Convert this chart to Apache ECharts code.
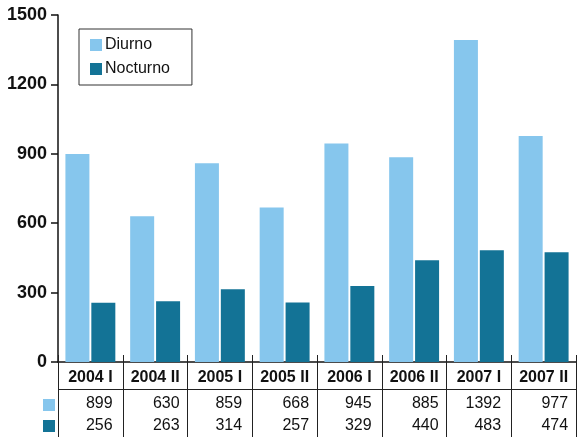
<!DOCTYPE html>
<html><head><meta charset="utf-8">
<script src="https://cdn.jsdelivr.net/npm/echarts@6/dist/echarts.min.js"></script>
<style>html,body{margin:0;padding:0;background:#fff}#c{width:580px;height:437px}</style>
</head><body><div id="c"></div>
<script>
const categories = ['2004 I','2004 II','2005 I','2005 II','2006 I','2006 II','2007 I','2007 II'];
const diurno = [899, 630, 859, 668, 945, 885, 1392, 977];
const nocturno = [256, 263, 314, 257, 329, 440, 483, 474];
const seriesNames = ['Diurno', 'Nocturno'];
const colors = ['#86C6ED', '#137396'];
const FONT = '"Liberation Sans", Arial, Helvetica, sans-serif';

const chart = echarts.init(document.getElementById('c'), null, {renderer: 'canvas'});
chart.setOption({
  animation: false,
  textStyle: {fontFamily: FONT},
  grid: {left: 58, right: 4, top: 15, bottom: 75, containLabel: false},
  legend: {
    orient: 'vertical', left: 79, top: 29,
    itemWidth: 12, itemHeight: 12, itemGap: 8,
    padding: [8, 22, 8, 11],
    borderColor: '#333', borderWidth: 1,
    textStyle: {fontFamily: FONT, fontSize: 16, color: '#111', padding: [0,0,0,-2]},
    data: seriesNames,
    icon: 'rect'
  },
  xAxis: [{
    type: 'category', data: categories, boundaryGap: true,
    axisLine: {lineStyle: {color: '#111', width: 1.5}},
    axisTick: {show: true, interval: 0, length: 76, lineStyle: {color: '#222', width: 1}},
    axisLabel: {
      interval: 0, margin: 1,
      formatter: function (v, i) {
        return '{c|' + v + '}\n{v|' + diurno[i] + '}\n{v|' + nocturno[i] + '}';
      },
      rich: {
        c: {fontFamily: FONT, fontWeight: 'bold', fontSize: 16, color: '#111', lineHeight: 30, align: 'center'},
        v: {fontFamily: FONT, fontSize: 16, color: '#111', lineHeight: 22, width: 44, align: 'right'}
      }
    }
  }, {
    type: 'category', data: categories, boundaryGap: true, position: 'bottom',
    axisLine: {show: false},
    axisTick: {show: true, inside: true, interval: 0, length: 7, lineStyle: {color: '#222', width: 1}},
    axisLabel: {show: false}
  }],
  yAxis: {
    type: 'value', min: 0, max: 1500, interval: 300,
    axisLine: {show: true, lineStyle: {color: '#111', width: 1.5}},
    axisTick: {show: true, length: 7, lineStyle: {color: '#111', width: 1.5}},
    splitLine: {show: false},
    axisLabel: {fontFamily: FONT, fontWeight: 'bold', fontSize: 18, color: '#111', margin: 11,
      formatter: function (v) { return String(v); }}
  },
  series: [
    {name: seriesNames[0], type: 'bar', data: diurno, barWidth: 24, barGap: '8%', itemStyle: {color: colors[0]}},
    {name: seriesNames[1], type: 'bar', data: nocturno, barWidth: 24, barGap: '8%', itemStyle: {color: colors[1]}}
  ],
  graphic: [
    {type: 'line', shape: {x1: 58, y1: 389.5, x2: 576, y2: 389.5}, style: {stroke: '#222', lineWidth: 1.2}},
    {type: 'rect', shape: {x: 43, y: 399, width: 12, height: 12}, style: {fill: colors[0]}},
    {type: 'rect', shape: {x: 43, y: 420, width: 12, height: 12}, style: {fill: colors[1]}}
  ]
});
</script></body></html>
